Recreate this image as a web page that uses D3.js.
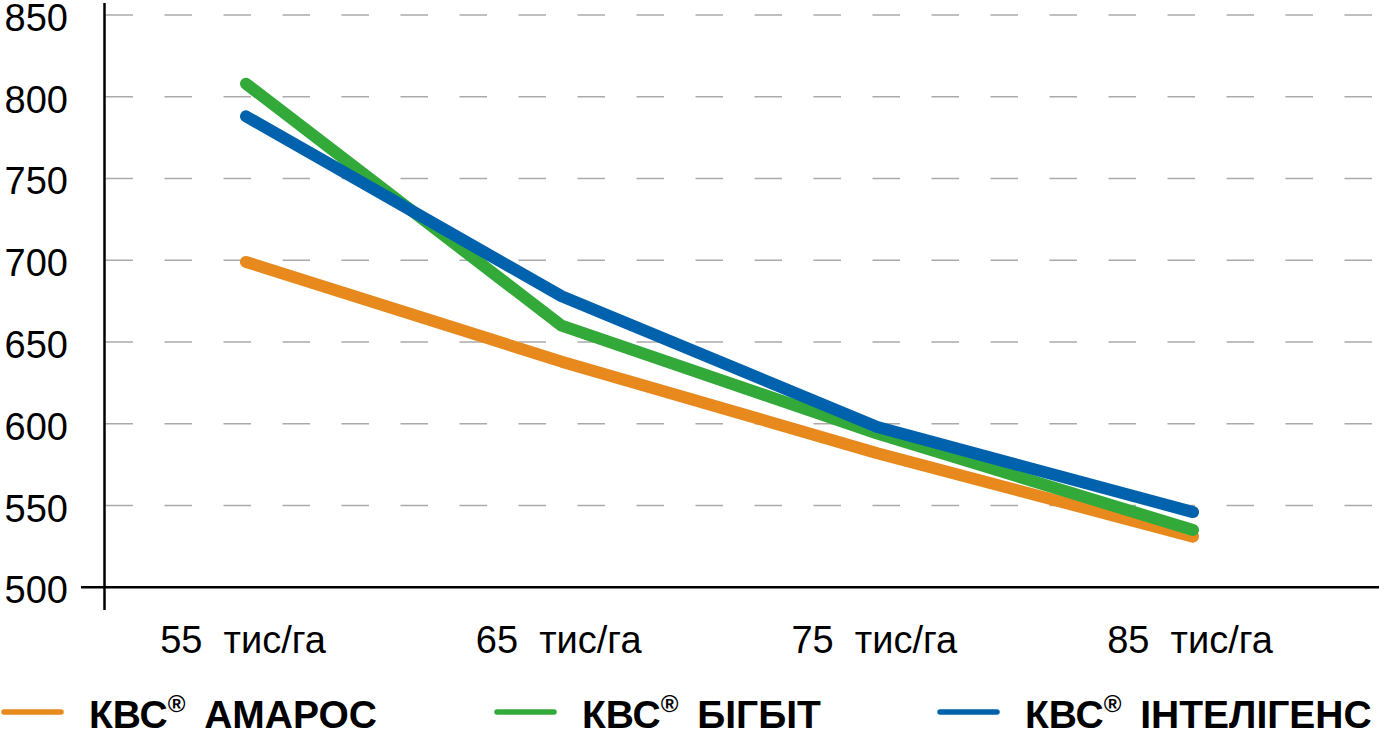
<!DOCTYPE html>
<html>
<head>
  <meta charset="utf-8">
  <title>КВС density chart</title>
  <script src="https://d3js.org/d3.v7.min.js"></script>
  <style>
    body { margin: 0; background: #fff; }
    text { font-family: "Liberation Sans", Arial, sans-serif; fill: #000; }
  </style>
</head>
<body>
  <script>
    // data
    const categories = ["55  тис/га", "65  тис/га", "75  тис/га", "85  тис/га"];
    const yTicks = [500, 550, 600, 650, 700, 750, 800, 850];
    const amaros = [699, 638, 582, 531];
    const bigbit = [808, 660, 594, 535];
    const intelligens = [788, 678, 598, 546];

    const series = [
      { name: "КВС", suffix: "АМАРОС", values: amaros, color: "#e8891e" },
      { name: "КВС", suffix: "БІГБІТ", values: bigbit, color: "#33a93a" },
      { name: "КВС", suffix: "ІНТЕЛІГЕНС", values: intelligens, color: "#0062ac" }
    ];

    const width = 1379, height = 731;
    const axisX = 104.5, axisY = 587.3;

    const svg = d3.select("body")
      .append("svg")
      .attr("width", width)
      .attr("height", height);

    const x = d3.scalePoint()
      .domain(categories)
      .range([246, 1193]);

    const y = d3.scaleLinear()
      .domain([500, 850])
      .range([axisY, 15]);

    // dashed grid lines
    svg.append("g")
      .selectAll("line")
      .data(yTicks.filter(d => d > 500))
      .enter()
      .append("line")
      .attr("x1", axisX + 1)
      .attr("x2", width)
      .attr("y1", d => y(d))
      .attr("y2", d => y(d))
      .attr("stroke", "#aaa")
      .attr("stroke-width", 1.5)
      .attr("stroke-dasharray", "27.5 31.5");

    // y tick labels
    svg.append("g")
      .selectAll("text")
      .data(yTicks)
      .enter()
      .append("text")
      .attr("x", 68)
      .attr("y", d => y(d))
      .attr("dy", "0.42em")
      .attr("text-anchor", "end")
      .style("font-size", "38px")
      .text(d => d);

    // x labels
    svg.append("g")
      .selectAll("text")
      .data(categories)
      .enter()
      .append("text")
      .attr("x", d => x(d) - 3)
      .attr("y", 653)
      .attr("text-anchor", "middle")
      .attr("xml:space", "preserve")
      .style("font-size", "38px")
      .text(d => d);

    // axes
    svg.append("line")
      .attr("x1", axisX).attr("x2", axisX)
      .attr("y1", 3).attr("y2", 610)
      .attr("stroke", "#000").attr("stroke-width", 2.5);

    svg.append("line")
      .attr("x1", 81).attr("x2", width)
      .attr("y1", axisY).attr("y2", axisY)
      .attr("stroke", "#000").attr("stroke-width", 2.5);

    // lines
    const line = d3.line()
      .x((d, i) => x(categories[i]))
      .y(d => y(d));

    svg.append("g")
      .selectAll("path")
      .data(series)
      .enter()
      .append("path")
      .attr("d", d => line(d.values))
      .attr("fill", "none")
      .attr("stroke", d => d.color)
      .attr("stroke-width", 12)
      .attr("stroke-linecap", "round")
      .attr("stroke-linejoin", "round");

    // legend
    const legendX = [2, 495, 938];
    const legend = svg.append("g")
      .selectAll("g")
      .data(series)
      .enter()
      .append("g")
      .attr("transform", (d, i) => "translate(" + legendX[i] + ",712)");

    legend.append("line")
      .attr("x1", 2).attr("x2", 59)
      .attr("stroke", d => d.color)
      .attr("stroke-width", 5.5)
      .attr("stroke-linecap", "round");

    const lt = legend.append("text")
      .attr("x", 87)
      .attr("y", 16)
      .style("font-size", "39px")
      .style("font-weight", "bold");

    lt.append("tspan").text(d => d.name);
    lt.append("tspan")
      .attr("dy", -16)
      .style("font-size", "24px")
      .text("®");
    lt.append("tspan")
      .attr("dy", 16)
      .attr("dx", 8)
      .text(d => " " + d.suffix);
  </script>
</body>
</html>
